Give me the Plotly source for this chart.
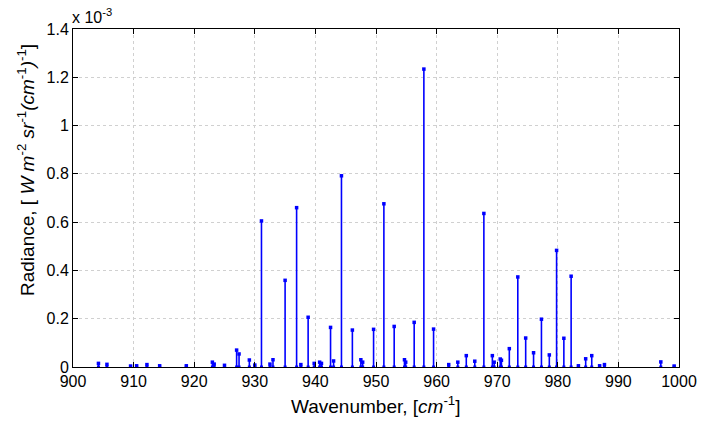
import plotly.graph_objects as go

# Peak positions (cm^-1) and heights (x 1e-3 W m^-2 sr^-1 (cm^-1)^-1)
wavenumber = [904.2, 905.6, 909.5, 910.5, 912.2, 914.3, 918.7, 923.0, 923.3, 925.0,
              927.0, 927.4, 929.1, 930.0, 931.1, 932.5, 933.0, 935.0, 936.9, 937.6,
              938.8, 939.8, 940.7, 941.0, 942.5, 943.0, 944.3, 946.1, 947.5, 947.8,
              949.6, 951.3, 953.0, 954.7, 954.9, 956.3, 957.9, 959.5, 962.0, 963.5,
              964.9, 966.3, 967.8, 969.2, 969.5, 970.5, 970.7, 972.0, 973.4, 974.7,
              976.0, 977.3, 978.6, 979.8, 981.0, 982.2, 983.4, 984.6, 985.6, 986.9,
              987.7, 997.0, 999.2]
radiance = [0.015, 0.011, 0.004, 0.005, 0.010, 0.005, 0.005, 0.020, 0.012, 0.007,
            0.070, 0.054, 0.029, 0.008, 0.605, 0.012, 0.030, 0.359, 0.660, 0.010,
            0.206, 0.015, 0.020, 0.015, 0.164, 0.025, 0.792, 0.153, 0.030, 0.020,
            0.156, 0.676, 0.168, 0.030, 0.020, 0.185, 1.234, 0.157, 0.010, 0.020,
            0.047, 0.024, 0.636, 0.047, 0.020, 0.033, 0.028, 0.076, 0.373, 0.120,
            0.059, 0.198, 0.050, 0.483, 0.119, 0.376, 0.005, 0.034, 0.047, 0.005,
            0.010, 0.021, 0.004]

x_ticks = [900, 910, 920, 930, 940, 950, 960, 970, 980, 990, 1000]
y_ticks = [0, 0.2, 0.4, 0.6, 0.8, 1.0, 1.2, 1.4]
y_tick_labels = ["0", "0.2", "0.4", "0.6", "0.8", "1", "1.2", "1.4"]

BLUE = "#0000ff"

# stems built from the data
sx, sy = [], []
for w, r in zip(wavenumber, radiance):
    sx += [w, w, None]
    sy += [0, r, None]

fig = go.Figure()
fig.add_trace(go.Scatter(x=sx, y=sy, mode="lines",
                         line=dict(color=BLUE, width=1.6),
                         hoverinfo="skip", showlegend=False))
fig.add_trace(go.Scatter(x=wavenumber, y=radiance, mode="markers",
                         marker=dict(color=BLUE, size=3.5, symbol="square"),
                         showlegend=False))
fig.add_trace(go.Scatter(x=wavenumber, y=[0] * len(wavenumber), mode="markers",
                         marker=dict(color=BLUE, size=3, symbol="square"),
                         showlegend=False))

font = "Liberation Sans, Arial, Helvetica, sans-serif"
axis_common = dict(
    showline=True, linecolor="black", linewidth=1, mirror="ticks",
    ticks="inside", ticklen=5, tickcolor="black",
    showgrid=True, gridcolor="#d0d0d0", griddash="dot", gridwidth=1,
    tickfont=dict(family=font, size=16, color="black"),
)

fig.update_layout(
    width=709, height=427,
    margin=dict(l=73, r=21, t=29, b=60),
    paper_bgcolor="white", plot_bgcolor="white",
    font=dict(family=font, color="black"),
    xaxis=dict(range=[x_ticks[0], x_ticks[-1]], tickvals=x_ticks,
               zeroline=False, **axis_common),
    yaxis=dict(range=[y_ticks[0], y_ticks[-1]], tickvals=y_ticks, ticktext=y_tick_labels,
               zeroline=True, zerolinecolor=BLUE, zerolinewidth=3, **axis_common),
    annotations=[
        dict(text="x 10<sup>-3</sup>", xref="paper", yref="paper",
             x=0, y=1, xanchor="left", yanchor="bottom", showarrow=False,
             xshift=-3, yshift=1,
             font=dict(family=font, size=16, color="black")),
        dict(text="Wavenumber, [<i>cm</i><sup>-1</sup>]", xref="paper", yref="paper",
             x=0.5, y=0, xanchor="center", yanchor="middle", showarrow=False,
             yshift=-38, font=dict(family=font, size=19, color="black")),
        dict(text="Radiance, [ <i>W m</i><sup>-2</sup> <i>sr</i><sup>-1</sup>"
                  "<i>(cm</i><sup>-1</sup><i>)</i><sup>-1</sup>]",
             xref="paper", yref="paper", x=0, y=(367 - 170) / 338,
             xanchor="center", yanchor="middle", showarrow=False, textangle=-90,
             xshift=-47, font=dict(family=font, size=19, color="black")),
    ],
)

fig.write_html("out.html")
